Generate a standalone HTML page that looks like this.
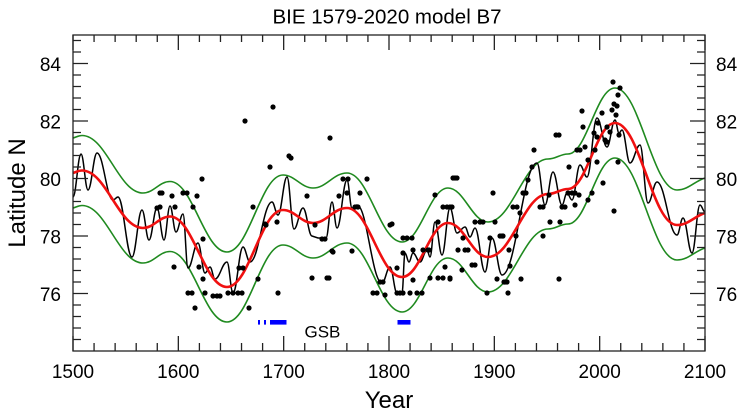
<!DOCTYPE html>
<html><head><meta charset="utf-8"><style>
html,body{margin:0;padding:0;background:#fff;}
svg{display:block;}
text{font-family:"Liberation Sans",Arial,sans-serif;fill:#000;}
</style></head><body>
<svg width="747" height="419" viewBox="0 0 747 419" xmlns="http://www.w3.org/2000/svg">
<rect width="747" height="419" fill="#fff"/>
<text x="387" y="23.5" font-size="20.5" text-anchor="middle">BIE 1579-2020 model B7</text>

<defs>
<path id="red" d="M73,173 C76.6,172 78.4,170.5 82,170.5 C106.4,170.5 118.6,228 143,228 C153.8,228 159.2,216.5 170,216.5 C192.8,216.5 204.2,287 227,287 C249.4,287 260.6,210 283,210 C295,210 301,223 313,223 C326.6,223 333.4,208 347,208 C369,208 380,277 402,277 C420.4,277 429.6,223 448,223 C464,223 472,257 488,257 C512,257 524,194 548,194 C556,194 560,189 568,189 C586.8,189 596.2,123 615,123 C639.8,123 652.2,225 677,225 C688.2,225 695,216 705,213"/>
</defs>
<use href="#red" transform="translate(0,-35)" fill="none" stroke="#1f8a1f" stroke-width="1.6"/>
<use href="#red" transform="translate(0,35)" fill="none" stroke="#1f8a1f" stroke-width="1.6"/>

<path fill="none" stroke="#000" stroke-width="1.5" d="M73,197 C76.2,197 77.8,154 81,154 C83.8,154 85.2,190 88,190 C91.6,190 93.4,153 97,153 C103.4,153 106.6,200 113,200 C115,200 116,197 118,197 C123.6,197 126.4,257 132,257 C136,257 138,210 142,210 C144.8,210 146.2,240 149,240 C152.2,240 153.8,208 157,208 C159.8,208 161.2,240 164,240 C166.4,240 167.6,206 170,206 C172.4,206 173.6,232 176,232 C178.8,232 180.2,214 183,214 C185,214 186,268 188,268 C192,268 194,243 198,243 C200.8,243 202.2,273 205,273 C207,273 208,267 210,267 C212,267 213,279 215,279 C219.8,279 222.2,262 227,262 C229.4,262 230.6,293 233,293 C237,293 239,247 243,247 C245.8,247 247.2,262 250,262 C258.8,262 263.2,202 272,202 C274.4,202 275.6,215 278,215 C281.6,215 283.4,177 287,177 C289.8,177 291.2,229 294,229 C297.6,229 299.4,208 303,208 C306.6,208 308.4,236 312,236 L318,238 L326,238 C328.4,238 329.6,202 332,202 C334,202 335,228 337,228 C341,228 343,180 347,180 C349,180 350,208 352,208 C354,208 355,205 357,205 C367,205 372,283 382,283 C385.2,283 386.8,267 390,267 C392.8,267 394.2,293 397,293 L402,293 C403.2,293 403.8,253 405,253 C406.6,253 407.4,262 409,262 C410.6,262 411.4,253 413,253 C415.8,253 417.2,262 420,262 C422.8,262 424.2,250 427,250 C428.2,250 428.8,257 430,257 C432,257 433,222 435,222 C437.8,222 439.2,255 442,255 C445.2,255 446.8,208 450,208 C452.8,208 454.2,233 457,233 C460.2,233 461.8,227 465,227 C467,227 468,237 470,237 C472,237 473,228 475,228 C479,228 481,272 485,272 C487.8,272 489.2,238 492,238 C496,238 498,275 502,275 C516,275 523,163 537,163 C540.2,163 541.8,205 545,205 C548.2,205 549.8,172 553,172 C556.6,172 558.4,205 562,205 C564,205 565,193 567,193 C569,193 570,200 572,200 C575.2,200 576.8,165 580,165 C582.8,165 584.2,177 587,177 C591,177 593,118 597,118 C601,118 603,147 607,147 C610.2,147 611.8,120 615,120 C616.6,120 617.4,133 619,133 C620.2,133 620.8,130 622,130 C625.2,130 626.8,163 630,163 C634,163 636,145 640,145 C643.2,145 644.8,203 648,203 C651.6,203 653.4,182 657,182 C665,182 669,235 677,235 C679.4,235 680.6,218 683,218 C686.6,218 688.4,253 692,253 C695.2,253 696.8,205 700,205 C702,205 703,212 705,212"/>

<use href="#red" fill="none" stroke="#f01010" stroke-width="2.6"/>

<g fill="#000">
<circle cx="245" cy="121" r="2.6"/><circle cx="202" cy="179" r="2.6"/><circle cx="162" cy="193" r="2.6"/><circle cx="172" cy="196" r="2.6"/><circle cx="183" cy="193" r="2.6"/><circle cx="187" cy="193" r="2.6"/><circle cx="197" cy="196" r="2.6"/><circle cx="157" cy="208" r="2.6"/><circle cx="160" cy="193" r="2.6"/><circle cx="160" cy="207" r="2.6"/><circle cx="175" cy="207" r="2.6"/><circle cx="193" cy="207" r="2.6"/><circle cx="253" cy="207" r="2.6"/><circle cx="203" cy="239" r="2.6"/><circle cx="174" cy="267" r="2.6"/><circle cx="199" cy="267" r="2.6"/><circle cx="203" cy="279" r="2.6"/><circle cx="188" cy="293" r="2.6"/><circle cx="192" cy="293" r="2.6"/><circle cx="205" cy="293" r="2.6"/><circle cx="213" cy="296" r="2.6"/><circle cx="217" cy="296" r="2.6"/><circle cx="220" cy="296" r="2.6"/><circle cx="228" cy="293" r="2.6"/><circle cx="233" cy="293" r="2.6"/><circle cx="238" cy="293" r="2.6"/><circle cx="242" cy="293" r="2.6"/><circle cx="195" cy="308" r="2.6"/><circle cx="249" cy="308" r="2.6"/><circle cx="239" cy="268" r="2.6"/><circle cx="243" cy="268" r="2.6"/><circle cx="258" cy="279" r="2.6"/><circle cx="270" cy="167" r="2.6"/><circle cx="273" cy="107" r="2.6"/><circle cx="330" cy="138" r="2.6"/><circle cx="289" cy="156" r="2.6"/><circle cx="291" cy="158" r="2.6"/><circle cx="343" cy="179" r="2.6"/><circle cx="348" cy="179" r="2.6"/><circle cx="367" cy="179" r="2.6"/><circle cx="307" cy="196" r="2.6"/><circle cx="339" cy="196" r="2.6"/><circle cx="347" cy="193" r="2.6"/><circle cx="360" cy="193" r="2.6"/><circle cx="355" cy="207" r="2.6"/><circle cx="358" cy="207" r="2.6"/><circle cx="266" cy="225" r="2.6"/><circle cx="277" cy="222" r="2.6"/><circle cx="315" cy="225" r="2.6"/><circle cx="322" cy="239" r="2.6"/><circle cx="325" cy="239" r="2.6"/><circle cx="332" cy="251" r="2.6"/><circle cx="352" cy="251" r="2.6"/><circle cx="312" cy="278" r="2.6"/><circle cx="327" cy="278" r="2.6"/><circle cx="329" cy="278" r="2.6"/><circle cx="278" cy="293" r="2.6"/><circle cx="390" cy="225" r="2.6"/><circle cx="435" cy="195" r="2.6"/><circle cx="455" cy="178" r="2.6"/><circle cx="443" cy="207" r="2.6"/><circle cx="447" cy="207" r="2.6"/><circle cx="452" cy="207" r="2.6"/><circle cx="438" cy="222" r="2.6"/><circle cx="403" cy="238" r="2.6"/><circle cx="407" cy="238" r="2.6"/><circle cx="412" cy="238" r="2.6"/><circle cx="413" cy="250" r="2.6"/><circle cx="428" cy="250" r="2.6"/><circle cx="463" cy="238" r="2.6"/><circle cx="458" cy="250" r="2.6"/><circle cx="465" cy="250" r="2.6"/><circle cx="468" cy="250" r="2.6"/><circle cx="397" cy="268" r="2.6"/><circle cx="445" cy="267" r="2.6"/><circle cx="462" cy="270" r="2.6"/><circle cx="438" cy="278" r="2.6"/><circle cx="443" cy="278" r="2.6"/><circle cx="450" cy="278" r="2.6"/><circle cx="373" cy="293" r="2.6"/><circle cx="377" cy="293" r="2.6"/><circle cx="385" cy="295" r="2.6"/><circle cx="397" cy="293" r="2.6"/><circle cx="400" cy="293" r="2.6"/><circle cx="403" cy="293" r="2.6"/><circle cx="410" cy="293" r="2.6"/><circle cx="417" cy="293" r="2.6"/><circle cx="422" cy="293" r="2.6"/><circle cx="380" cy="282" r="2.6"/><circle cx="383" cy="282" r="2.6"/><circle cx="265" cy="224" r="2.6"/><circle cx="392" cy="224" r="2.6"/><circle cx="333" cy="252" r="2.6"/><circle cx="403" cy="253" r="2.6"/><circle cx="423" cy="250" r="2.6"/><circle cx="429" cy="250" r="2.6"/><circle cx="413" cy="280" r="2.6"/><circle cx="430" cy="278" r="2.6"/>
<circle cx="453" cy="178" r="2.6"/><circle cx="457" cy="178" r="2.6"/><circle cx="450" cy="207" r="2.6"/><circle cx="493" cy="193" r="2.6"/><circle cx="475" cy="222" r="2.6"/><circle cx="480" cy="222" r="2.6"/><circle cx="483" cy="222" r="2.6"/><circle cx="495" cy="222" r="2.6"/><circle cx="450" cy="279" r="2.6"/><circle cx="472" cy="265" r="2.6"/><circle cx="475" cy="265" r="2.6"/><circle cx="490" cy="238" r="2.6"/><circle cx="500" cy="236" r="2.6"/><circle cx="503" cy="236" r="2.6"/><circle cx="497" cy="279" r="2.6"/><circle cx="505" cy="282" r="2.6"/><circle cx="507" cy="282" r="2.6"/><circle cx="508" cy="293" r="2.6"/><circle cx="487" cy="293" r="2.6"/><circle cx="521" cy="279" r="2.6"/><circle cx="510" cy="266" r="2.6"/><circle cx="516" cy="236" r="2.6"/><circle cx="509" cy="250" r="2.6"/><circle cx="513" cy="207" r="2.6"/><circle cx="517" cy="207" r="2.6"/><circle cx="520" cy="213" r="2.6"/><circle cx="523" cy="193" r="2.6"/><circle cx="526" cy="193" r="2.6"/><circle cx="528" cy="180" r="2.6"/><circle cx="532" cy="167" r="2.6"/><circle cx="534" cy="150" r="2.6"/><circle cx="543" cy="236" r="2.6"/><circle cx="543" cy="207" r="2.6"/><circle cx="550" cy="222" r="2.6"/><circle cx="560" cy="222" r="2.6"/><circle cx="540" cy="207" r="2.6"/><circle cx="549" cy="195" r="2.6"/><circle cx="556" cy="135" r="2.6"/><circle cx="559" cy="135" r="2.6"/><circle cx="559" cy="279" r="2.6"/><circle cx="562" cy="207" r="2.6"/><circle cx="565" cy="207" r="2.6"/><circle cx="568" cy="193" r="2.6"/><circle cx="572" cy="193" r="2.6"/><circle cx="575" cy="193" r="2.6"/><circle cx="575" cy="205" r="2.6"/><circle cx="569" cy="167" r="2.6"/><circle cx="579" cy="195" r="2.6"/><circle cx="577" cy="150" r="2.6"/><circle cx="580" cy="150" r="2.6"/><circle cx="585" cy="147" r="2.6"/><circle cx="583" cy="127" r="2.6"/><circle cx="582" cy="111" r="2.6"/><circle cx="588" cy="160" r="2.6"/><circle cx="588" cy="200" r="2.6"/><circle cx="592" cy="193" r="2.6"/><circle cx="595" cy="150" r="2.6"/><circle cx="597" cy="137" r="2.6"/><circle cx="594" cy="133" r="2.6"/><circle cx="597" cy="162" r="2.6"/><circle cx="598" cy="123" r="2.6"/><circle cx="603" cy="183" r="2.6"/><circle cx="605" cy="140" r="2.6"/><circle cx="607" cy="142" r="2.6"/><circle cx="607" cy="127" r="2.6"/><circle cx="602" cy="113" r="2.6"/><circle cx="610" cy="132" r="2.6"/><circle cx="612" cy="110" r="2.6"/><circle cx="614" cy="104" r="2.6"/><circle cx="617" cy="106" r="2.6"/><circle cx="618" cy="95" r="2.6"/><circle cx="616" cy="115" r="2.6"/><circle cx="619" cy="135" r="2.6"/><circle cx="620" cy="88" r="2.6"/><circle cx="613" cy="82" r="2.6"/><circle cx="618" cy="162" r="2.6"/><circle cx="614" cy="211" r="2.6"/><circle cx="502" cy="236" r="2.6"/><circle cx="504" cy="282" r="2.6"/>
</g>

<g fill="#0000ff">
<rect x="258" y="320" width="2" height="4.6"/>
<rect x="264" y="320" width="2" height="4.6"/>
<rect x="270" y="320" width="16.5" height="4.6"/>
<rect x="397.5" y="320" width="13" height="4.6"/>
</g>
<text x="304.5" y="337.5" font-size="17">GSB</text>

<g fill="none" stroke="#222" stroke-width="1.3">
<rect x="73" y="35" width="632" height="316"/>
<path d="M73,351V336M178.33,351V336M283.67,351V336M389,351V336M494.33,351V336M599.67,351V336M705,351V336
M73,35V50M178.33,35V50M283.67,35V50M389,35V50M494.33,35V50M599.67,35V50M705,35V50
M94.07,351V343M115.13,351V343M136.2,351V343M157.27,351V343M199.4,351V343M220.47,351V343M241.53,351V343M262.6,351V343M304.73,351V343M325.8,351V343M346.87,351V343M367.93,351V343M410.07,351V343M431.13,351V343M452.2,351V343M473.27,351V343M515.4,351V343M536.47,351V343M557.53,351V343M578.6,351V343M620.73,351V343M641.8,351V343M662.87,351V343M683.93,351V343
M94.07,35V42M115.13,35V42M136.2,35V42M157.27,35V42M199.4,35V42M220.47,35V42M241.53,35V42M262.6,35V42M304.73,35V42M325.8,35V42M346.87,35V42M367.93,35V42M410.07,35V42M431.13,35V42M452.2,35V42M473.27,35V42M515.4,35V42M536.47,35V42M557.53,35V42M578.6,35V42M620.73,35V42M641.8,35V42M662.87,35V42M683.93,35V42
M73,293.5H88M73,236H88M73,178.5H88M73,121H88M73,63.5H88
M705,293.5H690M705,236H690M705,178.5H690M705,121H690M705,63.5H690
M73,339.5H81M73,328H81M73,316.5H81M73,305H81M73,282H81M73,270.5H81M73,259H81M73,247.5H81M73,224.5H81M73,213H81M73,201.5H81M73,190H81M73,167H81M73,155.5H81M73,144H81M73,132.5H81M73,109.5H81M73,98H81M73,86.5H81M73,75H81M73,52H81M73,40.5H81
M705,339.5H697M705,328H697M705,316.5H697M705,305H697M705,282H697M705,270.5H697M705,259H697M705,247.5H697M705,224.5H697M705,213H697M705,201.5H697M705,190H697M705,167H697M705,155.5H697M705,144H697M705,132.5H697M705,109.5H697M705,98H697M705,86.5H697M705,75H697M705,52H697M705,40.5H697"/>
</g>

<g font-size="19" text-anchor="end">
<text x="61" y="71">84</text>
<text x="61" y="128.5">82</text>
<text x="61" y="186">80</text>
<text x="61" y="243.5">78</text>
<text x="61" y="301">76</text>
</g>
<g font-size="19" text-anchor="start">
<text x="716" y="71">84</text>
<text x="716" y="128.5">82</text>
<text x="716" y="186">80</text>
<text x="716" y="243.5">78</text>
<text x="716" y="301">76</text>
</g>
<g font-size="19" text-anchor="middle">
<text x="73" y="378">1500</text>
<text x="178.3" y="378">1600</text>
<text x="283.7" y="378">1700</text>
<text x="389" y="378">1800</text>
<text x="494.3" y="378">1900</text>
<text x="599.7" y="378">2000</text>
<text x="705" y="378">2100</text>
</g>
<text x="389" y="408" font-size="24" text-anchor="middle">Year</text>
<text transform="translate(25,193) rotate(-90)" font-size="24" text-anchor="middle">Latitude N</text>
</svg>
</body></html>
